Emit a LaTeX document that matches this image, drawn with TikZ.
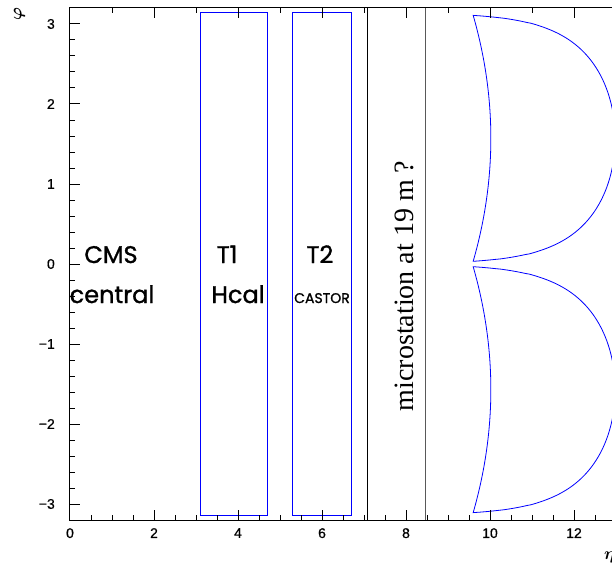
\documentclass[tikz,border=0pt]{standalone}
\usepackage{fontspec}
\setmainfont{Liberation Sans}
\newfontfamily\tickfont[FakeBold=0.6]{Liberation Sans}
\newfontfamily\gothic[FakeBold=1.2]{Poppins}
\newfontfamily\romfont{Liberation Serif}
\usepackage{tikz}
\definecolor{det}{RGB}{0,0,255}
\tikzset{
  axisline/.style={line width=1pt},
  ticklab/.style={font=\tickfont\fontsize{14}{16}\selectfont, inner sep=0pt},
  detlab/.style={font=\gothic\fontsize{24}{26}\selectfont, inner sep=0pt, anchor=base},
  detbox/.style={det, line width=0.8pt},
  accept/.style={det, line width=0.8pt},
}

\begin{document}
\begin{tikzpicture}[x=42pt, y=80pt]
\useasboundingbox ({-70/42},{-306/80}) rectangle ({542/42},3.3);
\clip ({-70/42},{-306/80}) rectangle ({542/42},3.3);

% detector boxes
\draw[detbox] (3.1,-3.1416) rectangle (4.7,3.1416);
\draw[detbox] (5.3,-3.1416) rectangle (6.7,3.1416);

% microstation
\draw[line width=0.8pt] (7.07,-3.2) -- (7.07,3.2);
\draw[line width=0.8pt, black!65] (8.45,-3.2) -- (8.45,3.2);
\node[font=\romfont\fontsize{28}{30}\selectfont, rotate=90, anchor=base, inner sep=0pt]
  (micro) at (8.167,-0.275) {microstation at 19 m ?};

% acceptance, phi>0 and phi<0
\foreach \s in {1,-1}
  \draw[accept] plot[domain=0.034:3.1076, samples=400, variable=\p]
      ({12.98+ln(sin(\p r))},{\s*\p})
    -- plot[domain=3.1076:0.034, samples=60, variable=\p]
      ({10.02-0.178*(\p-1.5708)*(\p-1.5708)},{\s*\p}) -- cycle;

% frame
\draw[axisline] (0,-3.2) rectangle (14,3.2);
\foreach \i in {1,...,27}
  \draw[axisline] (\i/2,-3.2) -- ++(0,5pt);
\foreach \x in {0,2,...,12} {
  \draw[axisline] (\x,-3.2) -- ++(0,10pt);
  \node[ticklab, anchor=north] (xl\x) at ([yshift=-8pt]\x,-3.2) {\x};
}
\foreach \x in {1,...,13}
  \draw[axisline] (\x,3.2) -- ++(0,-5pt);
\foreach \x in {2,4,...,12}
  \draw[axisline] (\x,3.2) -- ++(0,-10pt);
\foreach \i in {-16,...,16}
  \draw[axisline] (0,\i/5) -- ++(5pt,0);
\foreach \y/\t in {-3/−3,-2/−2,-1/−1,0/0,1/1,2/2,3/3} {
  \draw[axisline] (0,\y) -- ++(10pt,0);
  \node[ticklab, anchor=east] (yl\y) at ([xshift=-15pt]0,\y) {\t};
}

% axis titles
\node[font=\fontsize{16}{18}\selectfont\boldmath, rotate=90, inner sep=0pt] (phi) at (-1.2024,3.125) {$\varphi$};
\node[font=\fontsize{16}{18}\selectfont\boldmath, anchor=base west, inner sep=0pt] (eta) at (12.714,-3.6875) {$\eta$};

% labels
\node[detlab] (cms) at (0.976,0.0125) {CMS};
\node[detlab] (central) at (1.0,-0.4875) {central};
\node[detlab] (tone) at (3.74,0.0125) {T1};
\node[detlab] (hcal) at (4.0,-0.4875) {Hcal};
\node[detlab] (ttwo) at (5.95,0.0125) {T2};
\node[detlab, font=\gothic\fontsize{14}{16}\selectfont] (castor) at (6.0,-0.4875) {CASTOR};
\end{tikzpicture}
\end{document}
